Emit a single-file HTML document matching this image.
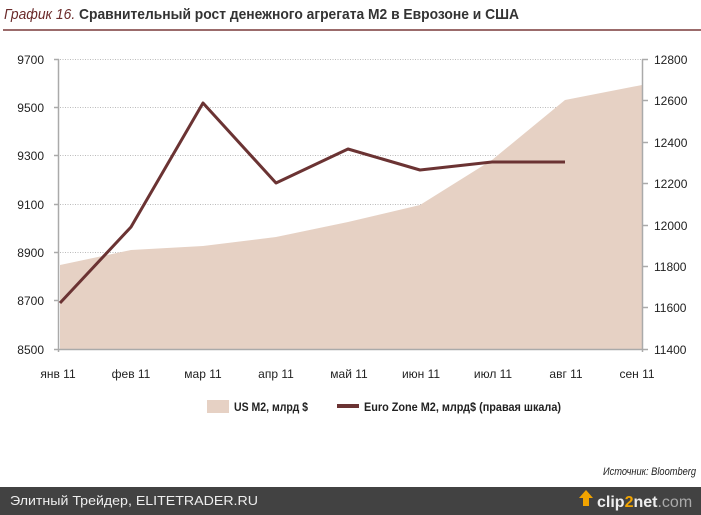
<!DOCTYPE html>
<html><head><meta charset="utf-8"><style>
html,body{margin:0;padding:0;background:#fff;width:701px;height:515px;overflow:hidden}
svg{display:block}
text{font-family:"Liberation Sans Narrow","Liberation Sans",sans-serif}
</style></head><body>
<svg width="701" height="515" viewBox="0 0 701 515" xmlns="http://www.w3.org/2000/svg">
<text x="4" y="19" font-size="15" fill="#6b2b2b" textLength="515" lengthAdjust="spacingAndGlyphs"><tspan font-style="italic">График 16.</tspan><tspan font-weight="bold" fill="#333"> Сравнительный рост денежного агрегата М2 в Еврозоне и США</tspan></text>
<line x1="3" y1="30" x2="701" y2="30" stroke="#7a3a3a" stroke-width="1.5"/>
<g stroke="#bbb" stroke-width="1" stroke-dasharray="1,1.5">
<line x1="60" y1="59.5" x2="642" y2="59.5"/><line x1="60" y1="107.5" x2="642" y2="107.5"/>
<line x1="60" y1="155.5" x2="642" y2="155.5"/><line x1="60" y1="204.5" x2="642" y2="204.5"/>
<line x1="60" y1="252.5" x2="642" y2="252.5"/><line x1="60" y1="300.5" x2="642" y2="300.5"/>
</g>
<polygon points="60,265 131,250 203,246 276,237 348,222 420,205 492,160 565,100 642,85 642,349 60,349" fill="#e6d1c4"/>
<g stroke="#aaa" stroke-width="1.5" fill="none">
<line x1="58.5" y1="59" x2="58.5" y2="352"/><line x1="642.5" y1="59" x2="642.5" y2="352"/>
<line x1="58" y1="349.5" x2="642" y2="349.5"/>
<path d="M54 59.5H59M54 107.5H59M54 155.5H59M54 204.5H59M54 252.5H59M54 300.5H59M54 349.5H59"/>
<path d="M642 59.5H648M642 100.5H648M642 142.5H648M642 183.5H648M642 225.5H648M642 266.5H648M642 307.5H648M642 349.5H648"/>
</g>
<polyline points="60,303 131,227 203,103 276,183 348,149 420,170 492,162 565,162" fill="none" stroke="#6b3333" stroke-width="3" stroke-linejoin="round"/>
<g font-size="12" fill="#222" text-anchor="end">
<text x="44" y="64">9700</text><text x="44" y="112">9500</text><text x="44" y="160">9300</text>
<text x="44" y="209">9100</text><text x="44" y="257">8900</text><text x="44" y="305">8700</text><text x="44" y="354">8500</text>
</g>
<g font-size="12" fill="#222" text-anchor="start">
<text x="654" y="64">12800</text><text x="654" y="105">12600</text><text x="654" y="147">12400</text>
<text x="654" y="188">12200</text><text x="654" y="230">12000</text><text x="654" y="271">11800</text>
<text x="654" y="312">11600</text><text x="654" y="354">11400</text>
</g>
<g font-size="12" fill="#222" text-anchor="middle">
<text x="58" y="378">янв 11</text><text x="131" y="378">фев 11</text><text x="203" y="378">мар 11</text>
<text x="276" y="378">апр 11</text><text x="349" y="378">май 11</text><text x="421" y="378">июн 11</text>
<text x="493" y="378">июл 11</text><text x="566" y="378">авг 11</text><text x="637" y="378">сен 11</text>
</g>
<rect x="207" y="400" width="22" height="13" fill="#e6d1c4"/>
<text x="234" y="411" font-size="12" font-weight="bold" fill="#222" textLength="74" lengthAdjust="spacingAndGlyphs">US M2, млрд $</text>
<rect x="337" y="404" width="22" height="4" fill="#6b3333"/>
<text x="364" y="411" font-size="12" font-weight="bold" fill="#222" textLength="197" lengthAdjust="spacingAndGlyphs">Euro Zone M2, млрд$ (правая шкала)</text>
<text x="696" y="475" font-size="11" font-style="italic" fill="#222" text-anchor="end" textLength="93" lengthAdjust="spacingAndGlyphs">Источник: Bloomberg</text>
<rect x="0" y="487" width="701" height="28" fill="#424242"/>
<text x="10" y="505" font-size="13" fill="#eee" font-family="'DejaVu Sans',sans-serif" textLength="248" lengthAdjust="spacingAndGlyphs">Элитный Трейдер, ELITETRADER.RU</text>
<path d="M583 506 l0-8 -4 0 7-8 7 8 -4 0 0 8z" fill="#f2a400"/>
<text x="597" y="507" font-size="16" font-weight="bold" fill="#eee">clip<tspan fill="#f2a400">2</tspan>net<tspan font-weight="normal" fill="#aaa">.com</tspan></text>
</svg>
</body></html>
